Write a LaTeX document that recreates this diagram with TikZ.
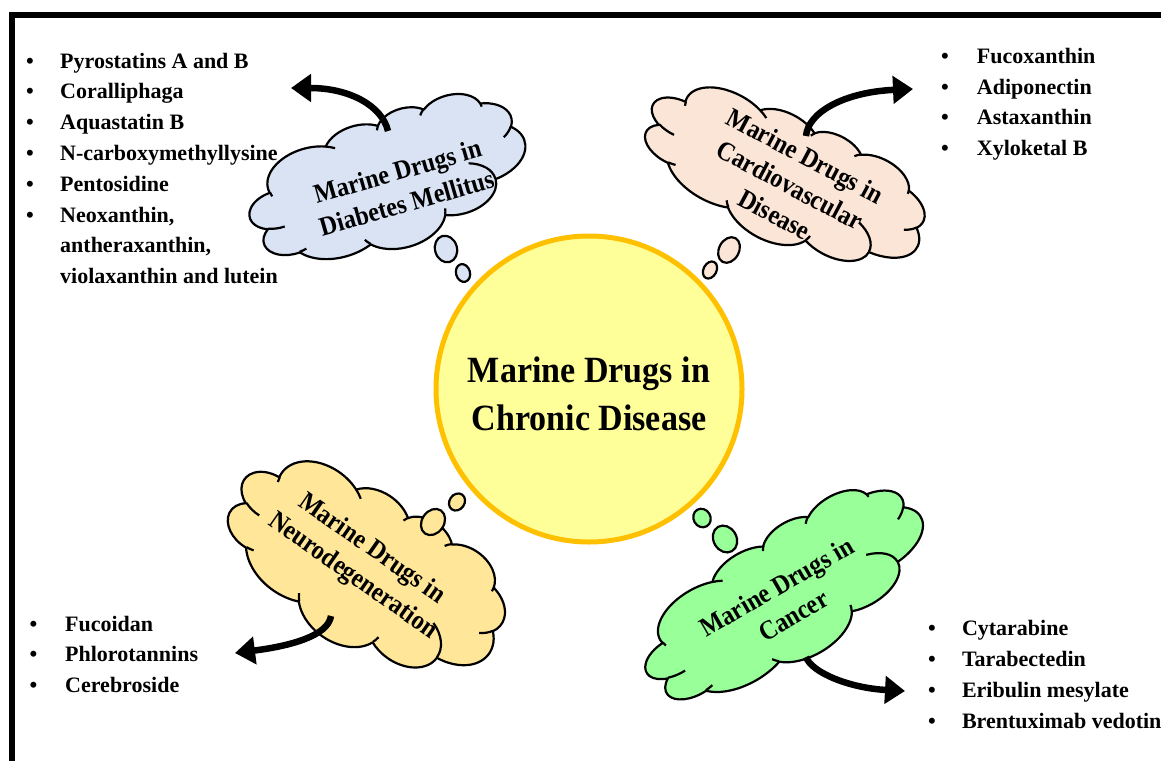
\documentclass[tikz,border=0pt]{standalone}
\usepackage{fontspec}
\setmainfont{Liberation Serif}
\newfontfamily\condfont[FakeStretch=0.92]{Liberation Serif}
\newfontfamily\cloudfont[FakeStretch=0.9]{Liberation Serif}
\usetikzlibrary{arrows.meta,shapes.geometric}

\definecolor{diabfill}{HTML}{DAE3F3}
\definecolor{cardfill}{HTML}{FBE5D6}
\definecolor{neurfill}{HTML}{FFE699}
\definecolor{cancfill}{HTML}{99FF99}
\definecolor{corefill}{HTML}{FFFF99}
\definecolor{coreline}{HTML}{FFC000}

\newcommand\cloudoutline{(9.028,33.264)
 arc[x radius=15.632,y radius=21.273,start angle=172.26,delta angle=128.11]
 arc[x radius=12.345,y radius=16.822,start angle=-152.02,delta angle=106.62]
 arc[x radius=10.104,y radius=13.762,start angle=-153.49,delta angle=116.18]
 arc[x radius=11.243,y radius=15.266,start angle=-139.71,delta angle=129.50]
 arc[x radius=12.345,y radius=16.836,start angle=-74.77,delta angle=97.98]
 arc[x radius=15.683,y radius=21.343,start angle=-37.53,delta angle=119.39]
 arc[x radius=13.391,y radius=18.211,start angle=0.46,delta angle=121.52]
 arc[x radius=15.630,y radius=21.331,start angle=16.84,delta angle=129.39]
 arc[x radius=17.870,y radius=24.405,start angle=58.98,delta angle=91.22]
 arc[x radius=10.093,y radius=13.699,start angle=83.31,delta angle=139.78]
 arc[x radius=10.058,y radius=13.762,start angle=120.35,delta angle=143.76] -- cycle}
\newcommand\cloudcreases{
 (10.863,60.595) arc[x radius=10.058,y radius=13.762,start angle=85.55,delta angle=34.80]
 (16.037,80.785) arc[x radius=10.093,y radius=13.699,start angle=68.23,delta angle=15.08]
 (38.144,90.486) arc[x radius=15.630,y radius=21.331,start angle=146.23,delta angle=12.25]
 (66.729,80.442) arc[x radius=15.630,y radius=21.331,start angle=4.74,delta angle=12.10]
 (79.002,53.134) arc[x radius=13.391,y radius=18.211,start angle=-64.03,delta angle=64.49]
 (96.755,35.542) arc[x radius=12.345,y radius=16.836,start angle=23.21,delta angle=26.43]
 (88.713,12.560) arc[x radius=11.243,y radius=15.266,start angle=-10.21,delta angle=11.03]
 (67.310,9.148) arc[x radius=11.243,y radius=15.266,start angle=-156.29,delta angle=16.58]
 (51.252,10.926) arc[x radius=10.104,y radius=13.762,start angle=-167.72,delta angle=14.23]
 (32.407,12.019) arc[x radius=15.632,y radius=21.273,start angle=-59.63,delta angle=13.89]
 (9.553,36.549) arc[x radius=15.632,y radius=21.273,start angle=166.60,delta angle=8.91]}
% #1 cx, #2 cy, #3 width, #4 height, #5 rotation, #6 fill, #7 extra transform
\newcommand\pptcloud[7]{%
 \begin{scope}[shift={(#1,#2)},rotate=#5,xscale=#3/100,yscale=#4/100,#7,shift={(-50,-50)}]
  \draw[cloudline,fill=#6] \cloudoutline;
  \draw[cloudline] \cloudcreases;
 \end{scope}}

\newcommand\bul[1]{\makebox[#1][l]{\textbullet}}

\tikzset{
 cloudline/.style={line width=2.2pt,line join=round,draw=black},
 cloudtext/.style={font=\fontsize{27}{33}\selectfont\cloudfont\bfseries,align=center,inner sep=0pt},
 bubble/.style={ellipse,draw=black,line width=2.2pt,inner sep=0pt},
 druglist/.style={anchor=base west,inner sep=0pt,font=\fontsize{22}{30.8}\selectfont\bfseries},
 bigarrow/.style={line width=6.5pt,-{Triangle[length=20pt,width=27pt]}},
 frameline/.style={line width=5.5pt,line cap=rect}
}

\begin{document}
\begin{tikzpicture}[x=1pt,y=-1pt]
\useasboundingbox (0,0) rectangle (1161,760);
\fill[white] (0,0) rectangle (1161,760);
% frame
\draw[frameline] (12,780) -- (12,15) -- (1180,15);

% lists
\node[druglist] (dlist) at (26,68) {\begin{tabular}[t]{@{}l@{}l@{}}
\bul{34pt} & Pyrostatins A and B\\
\bul{34pt} & Coralliphaga\\
\bul{34pt} & Aquastatin B\\
\bul{34pt} & N-carboxymethyllysine\\
\bul{34pt} & Pentosidine\\
\bul{34pt} & Neoxanthin,\\
 & antheraxanthin,\\
 & violaxanthin and lutein
\end{tabular}};
\node[druglist] (clist) at (941,63.3) {\begin{tabular}[t]{@{}l@{}l@{}}
\bul{35.7pt} & Fucoxanthin\\
\bul{35.7pt} & Adiponectin\\
\bul{35.7pt} & Astaxanthin\\
\bul{35.7pt} & Xyloketal B
\end{tabular}};
\node[druglist] (nlist) at (29.5,631) {\begin{tabular}[t]{@{}l@{}l@{}}
\bul{35.5pt} & Fucoidan\\
\bul{35.5pt} & Phlorotannins\\
\bul{35.5pt} & Cerebroside
\end{tabular}};
\node[druglist] (klist) at (927.8,635.7) {\begin{tabular}[t]{@{}l@{}l@{}}
\bul{34pt} & Cytarabine\\
\bul{34pt} & Tarabectedin\\
\bul{34pt} & Eribulin mesylate\\
\bul{34pt} & Brentuximab vedotin
\end{tabular}};

% clouds
\pptcloud{388}{182}{285}{135}{16}{diabfill}{xscale=1}
\pptcloud{784}{178}{300}{128}{-28}{cardfill}{xscale=1}
\pptcloud{365}{569}{300}{158}{-35}{neurfill}{xscale=1}
\pptcloud{785}{597}{315}{130}{30}{cancfill}{xscale=1}

\node[cloudtext,rotate=16] (diab) at (402,187) {Marine Drugs in\\Diabetes Mellitus};
\node[cloudtext,rotate=-28] (card) at (790,185) {Marine Drugs in\\Cardiovascular\\Disease};
\node[cloudtext,rotate=-35] (neur) at (362,563) {Marine Drugs in\\Neurodegeneration};
\node[cloudtext,rotate=30] (canc) at (785,601) {Marine Drugs in\\Cancer};

% thought bubbles
\node[bubble,fill=diabfill,minimum width=22pt,minimum height=27pt,rotate=16] (diabb1) at (446,249) {};
\node[bubble,fill=diabfill,minimum width=14pt,minimum height=18pt,rotate=16] (diabb2) at (463,273) {};
\node[bubble,fill=cardfill,minimum width=20pt,minimum height=27pt,rotate=-28] (cardb1) at (729,250) {};
\node[bubble,fill=cardfill,minimum width=13pt,minimum height=18pt,rotate=-28] (cardb2) at (710,270) {};
\node[bubble,fill=neurfill,minimum width=22pt,minimum height=28pt,rotate=-35] (neurb1) at (433,522) {};
\node[bubble,fill=neurfill,minimum width=15pt,minimum height=18pt,rotate=-35] (neurb2) at (457,502) {};
\node[bubble,fill=cancfill,minimum width=17pt,minimum height=19pt,rotate=30] (cancb1) at (702,518) {};
\node[bubble,fill=cancfill,minimum width=23pt,minimum height=28pt,rotate=30] (cancb2) at (725,539) {};

% arrows
\coordinate (da-s) at (388,131);
\coordinate (da-e) at (291,88);
\coordinate (ca-s) at (806,136);
\coordinate (ca-e) at (913,89);
\coordinate (na-s) at (331,616);
\coordinate (na-e) at (235,653);
\coordinate (ka-s) at (806,657);
\coordinate (ka-e) at (905,691);
\draw[bigarrow] (da-s) .. controls (382,106) and (350,88) .. (da-e);
\draw[bigarrow] (ca-s) .. controls (808,112) and (845,92) .. (ca-e);
\draw[bigarrow] (na-s) .. controls (328,636) and (290,646) .. (na-e);
\draw[bigarrow] (ka-s) .. controls (812,673) and (850,688) .. (ka-e);

% centre
\node[circle,draw=coreline,fill=corefill,line width=5pt,minimum size=306pt,inner sep=0pt] (core) at (589,389) {};
\node[font=\fontsize{37}{48}\selectfont\condfont\bfseries,align=center,inner sep=0pt] (coretext) at (589,393.5) {Marine Drugs in\\Chronic Disease};
\end{tikzpicture}
\end{document}
